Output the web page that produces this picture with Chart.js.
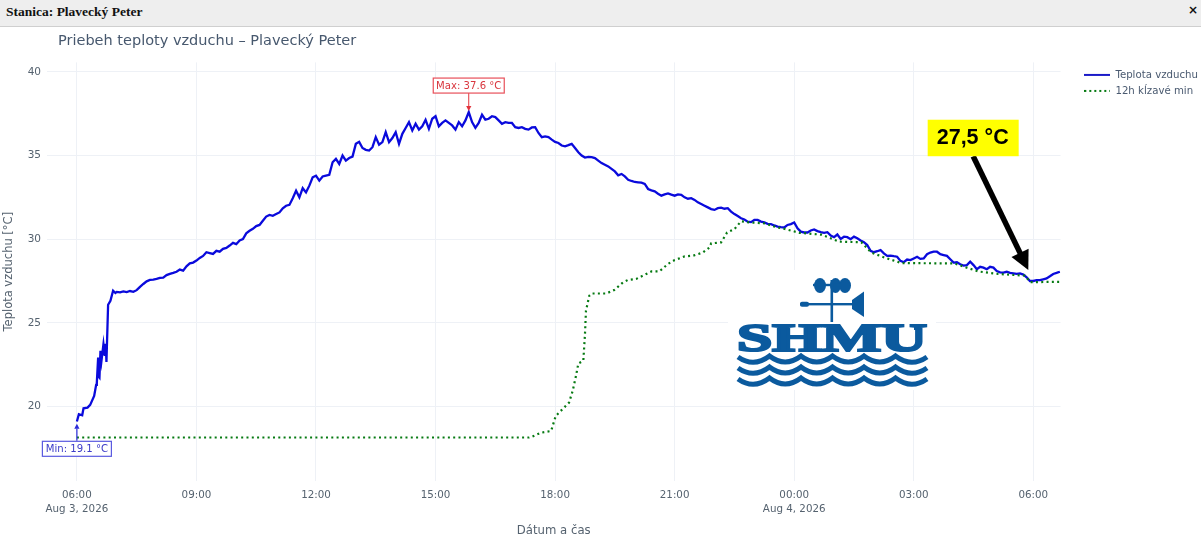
<!DOCTYPE html>
<html lang="sk">
<head>
<meta charset="utf-8">
<title>Priebeh teploty vzduchu – Plavecký Peter</title>
<script src="https://cdn.jsdelivr.net/npm/chart.js@4"></script>
<style>
html,body{margin:0;padding:0;background:#fff;width:1201px;height:540px;overflow:hidden}
#wrap{position:relative;width:1201px;height:540px}
#hdr{position:absolute;left:0;top:0;width:1201px;height:27px;background:#eeeeee;border-bottom:1px solid #cfcfcf;box-sizing:border-box;z-index:3;font:bold 13.5px "Liberation Serif",serif;color:#111;line-height:23px;padding-left:6px}
#cls{position:absolute;right:3px;top:0;font:bold 12px "DejaVu Sans",sans-serif;line-height:20px}
#logo{position:absolute;left:728px;top:270px;z-index:2}
canvas{position:absolute;left:0;top:0}
</style>
</head>
<body>
<div id="wrap">
<div id="hdr">Stanica: Plavecký Peter<span id="cls">×</span></div>
<canvas id="c" width="1201" height="540"></canvas>
<svg id="logo" width="208" height="120" viewBox="728 270 208 120" xmlns="http://www.w3.org/2000/svg">
  <rect x="728" y="270" width="208" height="120" fill="#fff"/>
  <g fill="#0b5a9e" stroke="none">
    <rect x="830.5" y="280" width="2.6" height="42"/>
    <ellipse cx="820" cy="285.5" rx="6" ry="7.5"/>
    <ellipse cx="835.5" cy="285.5" rx="5.5" ry="7.5"/>
    <ellipse cx="845" cy="285.5" rx="6" ry="7.5"/>
    <rect x="813" y="283.8" width="28" height="2.4"/>
    <rect x="800" y="303" width="54" height="2.4"/>
    <rect x="800" y="301.8" width="9" height="5" rx="2"/>
    <path d="M852 300 L864 291.5 L864 317 L852 309 Z"/>
  </g>
  <text x="737" y="350.5" font-family="Liberation Serif" font-weight="bold" font-size="39" fill="#0b5a9e" stroke="#0b5a9e" stroke-width="2.2" textLength="190" lengthAdjust="spacingAndGlyphs">SHMU</text>
  <rect x="914" y="326" width="4" height="4" fill="#0b5a9e"/>
  <g fill="none" stroke="#0b5a9e" stroke-width="5">
    <path d="M738 357 q15.7 11 31.5 -1 q15.7 12 31.5 0 q15.7 12 31.5 0 q15.7 12 31.5 0 q15.7 12 31.5 0 q15.7 12 31.5 1"/>
    <path d="M738 368 q15.7 11 31.5 -1 q15.7 12 31.5 0 q15.7 12 31.5 0 q15.7 12 31.5 0 q15.7 12 31.5 0 q15.7 12 31.5 1"/>
    <path d="M738 379 q15.7 11 31.5 -1 q15.7 12 31.5 0 q15.7 12 31.5 0 q15.7 12 31.5 0 q15.7 12 31.5 0 q15.7 12 31.5 1"/>
  </g>
</svg>
</div>
<script>
// minutes after 06:00 on Aug 3, 2026
const tickMinutes = [0,180,360,540,720,900,1080,1260,1440];
const tickTimes = ["06:00","09:00","12:00","15:00","18:00","21:00","00:00","03:00","06:00"];
const tickDates = ["Aug 3, 2026","","","","","","Aug 4, 2026","",""];
const yTicks = [20,25,30,35,40];

// air temperature: rapid morning rise (irregular times)
const riseMinutes = [0,3,8,10,16,20,26,29,30,32,33,34,35.5,37,40,42,43.5,44.5,47,50.5,54.5,58];
const riseTemps = [19.1,19.53,19.47,19.89,19.93,20.09,20.63,21.29,21.4,22.92,21.77,21.72,23.32,22.72,23.72,23.02,23.74,22.66,26.08,26.32,26.92,26.78];
// air temperature: rest of the record, one reading each 5 minutes from minute 60
const mainTemps = [
26.85,26.82,26.88,26.84,26.9,26.85,26.95,27.15,27.32,27.48,
27.56,27.58,27.62,27.68,27.7,27.85,27.92,27.98,28.05,28.18,
28.12,28.38,28.55,28.6,28.72,28.88,29.0,29.22,29.17,29.12,
29.3,29.25,29.42,29.48,29.62,29.78,29.7,29.92,30.0,30.35,
30.5,30.62,30.78,30.85,31.1,31.35,31.45,31.4,31.5,31.6,
31.85,32.0,32.05,32.45,32.9,32.5,33.05,32.8,33.2,33.7,
33.8,33.5,33.75,33.8,33.85,34.6,34.8,34.5,35.0,34.7,
34.85,34.94,35.7,35.82,35.45,35.34,35.3,35.5,36.1,35.65,
35.8,36.4,35.8,36.05,36.4,35.7,36.3,36.65,37.0,36.5,
36.9,36.55,36.75,37.14,36.6,37.2,37.35,36.75,36.95,37.1,
36.95,36.8,36.55,37.0,36.75,37.1,37.6,37.0,36.66,36.95,
37.44,37.15,37.2,37.35,37.3,37.1,36.9,37.0,36.95,36.95,
36.7,36.65,36.7,36.6,36.55,36.68,36.7,36.35,36.1,36.15,
36.1,35.95,35.82,35.75,35.6,35.55,35.62,35.7,35.45,35.2,
35.0,34.88,34.92,34.9,34.85,34.7,34.55,34.45,34.35,34.2,
34.05,33.82,33.9,33.75,33.55,33.48,33.42,33.4,33.38,33.3,
33.0,32.92,32.86,32.72,32.6,32.68,32.74,32.66,32.6,32.68,
32.65,32.5,32.42,32.45,32.35,32.2,32.1,32.0,31.9,31.8,
31.75,31.85,31.88,31.82,31.85,31.65,31.5,31.38,31.25,31.18,
31.05,31.02,31.15,31.15,31.05,31.0,30.92,30.9,30.82,30.75,
30.72,30.7,30.85,30.9,31.0,30.65,30.45,30.4,30.4,30.52,
30.58,30.48,30.42,30.38,30.42,30.22,30.12,30.28,30.02,30.15,
30.12,30.0,30.15,30.05,29.92,29.82,29.65,29.3,29.22,29.28,
29.35,29.15,29.0,29.02,28.98,28.95,28.7,28.62,28.78,28.75,
28.85,28.95,28.82,28.85,29.1,29.2,29.25,29.25,29.1,29.05,
29.0,28.8,28.6,28.62,28.5,28.42,28.45,28.65,28.45,28.2,
28.35,28.3,28.2,28.35,28.3,28.1,28.02,28.0,28.05,27.98,
27.95,27.92,27.95,27.88,27.72,27.5,27.5,27.55,27.55,27.6,
27.65,27.78,27.92,27.98,28.05];

// 12h rolling minimum
const minMinutes = [0,681,684,699,714,721,731,741,746.5,751.5,755,762.5,765,766.5,771.5,775,797,809,822,829.5,842,865,877,890,900,915,927.5,942.5,952.5,955,970,979,990,1000,1012,1035,1054.5,1065,1088,1121,1148,1181,1196,1216,1241.5,1321,1336,1357,1387,1427,1436,1481];
const minTemps = [18.14,18.14,18.17,18.43,18.53,19.43,19.83,20.23,20.93,21.83,22.56,22.73,24.32,25.72,26.62,26.75,26.75,26.96,27.41,27.56,27.62,28.07,28.07,28.52,28.75,28.97,29.01,29.2,29.5,29.75,29.81,30.4,30.6,31.07,31.0,30.95,30.7,30.62,30.38,30.27,29.85,29.82,29.2,28.9,28.57,28.55,28.35,28.07,27.92,27.82,27.43,27.45];

const seriesNames = ["Teplota vzduchu","12h kĺzavé min"];
const maxMark = {t:590, v:37.6, text:"Max: 37.6 °C"};
const minMark = {t:0, v:18.9, text:"Min: 19.1 °C"};
const callout = {text:"27,5 °C", tailT:1349.5, tailV:34.96, tipT:1432.5, tipV:28.16};

const mainMinutes = mainTemps.map((_,i)=>60+5*i);
const allTemps = riseTemps.concat(mainTemps);
const tempPoints = riseMinutes.concat(mainMinutes).map((m,i)=>({x:m,y:allTemps[i]}));
const minPoints = minMinutes.map((m,i)=>({x:m,y:minTemps[i]}));

const TXT="#55626f", SANS='"DejaVu Sans",sans-serif', GRID="#eef1f6", BLUE="#0a0adc", GREEN="#067a12";

function legendSwatch(color,dash){
  const cv=document.createElement('canvas');cv.width=26;cv.height=4;
  const g=cv.getContext('2d');g.strokeStyle=color;g.lineWidth=2;g.setLineDash(dash);
  g.beginPath();g.moveTo(0,2);g.lineTo(26,2);g.stroke();return cv;
}
const swatches=[legendSwatch("#1a1ac8",[]),legendSwatch(GREEN,[2,3])];

function box(ctx,cx,cy,w,h,stroke,textColor,text){
  ctx.fillStyle="#fff";ctx.strokeStyle=stroke;ctx.lineWidth=1.2;
  ctx.fillRect(cx-w/2,cy-h/2,w,h);ctx.strokeRect(cx-w/2,cy-h/2,w,h);
  ctx.fillStyle=textColor;ctx.font='10.1px '+SANS;ctx.textAlign="center";ctx.textBaseline="middle";
  ctx.fillText(text,cx,cy+.5);
}
function arrowHead(ctx,x,y,dx,dy,len,half){
  const n=Math.hypot(dx,dy);const ux=dx/n,uy=dy/n;
  ctx.beginPath();ctx.moveTo(x,y);
  ctx.lineTo(x-ux*len-uy*half,y-uy*len+ux*half);
  ctx.lineTo(x-ux*len+uy*half,y-uy*len-ux*half);
  ctx.closePath();ctx.fill();
}
const annotations={
  id:"annotations",
  afterLayout(chart){
    const tb=chart.titleBlock;tb.left=58;tb.right=600;tb.top+=3;tb.bottom+=3;
    const l=chart.legend;const w=l.right-l.left;
    l.left=1078.5;l.right=l.left+w;const h=l.bottom-l.top;l.top=64;l.bottom=l.top+h;
  },
  afterDatasetsDraw(chart){
    const {ctx,scales:{x,y}}=chart;ctx.save();
    const mx=x.getPixelForValue(maxMark.t),my=y.getPixelForValue(maxMark.v);
    ctx.strokeStyle="#e2333c";ctx.fillStyle="#e2333c";ctx.lineWidth=1;
    ctx.beginPath();ctx.moveTo(mx,my-20);ctx.lineTo(mx,my-4);ctx.stroke();
    arrowHead(ctx,mx,my-1,0,1,5,2.6);
    box(ctx,mx,my-26.5,71,15,"#e8505a","#d9363e",maxMark.text);
    const nx=x.getPixelForValue(minMark.t),ny=y.getPixelForValue(minMark.v);
    ctx.strokeStyle="#2a2ad8";ctx.fillStyle="#2a2ad8";
    ctx.beginPath();ctx.moveTo(nx,ny+16);ctx.lineTo(nx,ny+4);ctx.stroke();
    arrowHead(ctx,nx,ny-1,0,-1,5,2.6);
    box(ctx,nx,ny+24,69,15,"#5a5ae0","#3c3cc8",minMark.text);
    const tx=x.getPixelForValue(callout.tailT),ty=y.getPixelForValue(callout.tailV);
    const px=x.getPixelForValue(callout.tipT),py=y.getPixelForValue(callout.tipV);
    const n=Math.hypot(px-tx,py-ty);
    ctx.strokeStyle="#000";ctx.fillStyle="#000";ctx.lineWidth=5.5;
    ctx.beginPath();ctx.moveTo(tx,ty);ctx.lineTo(px-(px-tx)/n*14,py-(py-ty)/n*14);ctx.stroke();
    arrowHead(ctx,px,py,px-tx,py-ty,19,9.5);
    ctx.fillStyle="#ffff00";ctx.fillRect(tx-45.5,ty-36.5,91,36.5);
    ctx.fillStyle="#000";ctx.font='bold 21.5px "Liberation Sans",sans-serif';
    ctx.textAlign="center";ctx.textBaseline="middle";
    ctx.fillText(callout.text,tx-.5,ty-18);
    ctx.restore();
  }
};

new Chart(document.getElementById('c'),{
  type:'line',
  data:{datasets:[
    {label:seriesNames[0],data:tempPoints,borderColor:BLUE,borderWidth:2.3,pointRadius:0,tension:0,fill:false,order:1},
    {label:seriesNames[1],data:minPoints,borderColor:GREEN,borderWidth:2.2,borderDash:[2,3.3],pointRadius:0,tension:0,fill:false,order:0}
  ]},
  plugins:[annotations],
  options:{
    responsive:false,animation:false,devicePixelRatio:1,
    layout:{padding:{left:2,right:11,top:30,bottom:2}},
    parsing:false,
    plugins:{
      tooltip:{enabled:false},
      title:{display:true,text:"Priebeh teploty vzduchu – Plavecký Peter",align:'start',color:"#47586e",font:{family:SANS,size:14.5,weight:'normal'},padding:{top:0,bottom:15}},
      legend:{position:'right',align:'start',labels:{
        color:"#4a5a70",font:{family:SANS,size:10.2},usePointStyle:true,pointStyleWidth:26,padding:5.8,boxHeight:10,
        generateLabels:()=>seriesNames.map((n,i)=>({text:n,pointStyle:swatches[i],fontColor:"#4a5a70",lineWidth:0,hidden:false,datasetIndex:i,strokeStyle:'transparent',fillStyle:'transparent'}))
      }}
    },
    scales:{
      x:{type:'linear',min:-45,max:1481,
        afterBuildTicks(s){s.ticks=tickMinutes.map(v=>({value:v}));},
        afterFit(s){s.height=57;},
        grid:{color:GRID,lineWidth:1,drawTicks:false,drawBorder:false},border:{display:false},
        title:{display:true,text:"Dátum a čas",color:TXT,font:{family:SANS,size:11.7},padding:{top:4,bottom:0}},
        ticks:{color:TXT,font:{family:SANS,size:10.3,lineHeight:1.38},padding:7,maxRotation:0,autoSkip:false,
          callback(v){const i=tickMinutes.indexOf(v);return tickDates[i]?[tickTimes[i],tickDates[i]]:tickTimes[i];}}
      },
      y:{type:'linear',min:15.54,max:40.57,
        afterBuildTicks(s){s.ticks=yTicks.map(v=>({value:v}));},
        afterFit(s){s.width=45;},
        grid:{color:GRID,lineWidth:1,drawTicks:false},border:{display:false},
        title:{display:true,text:"Teplota vzduchu [°C]",color:TXT,font:{family:SANS,size:11.5},padding:{top:0,bottom:0}},
        ticks:{color:TXT,font:{family:SANS,size:10.5},padding:6}
      }
    }
  }
});
</script>
</body>
</html>
